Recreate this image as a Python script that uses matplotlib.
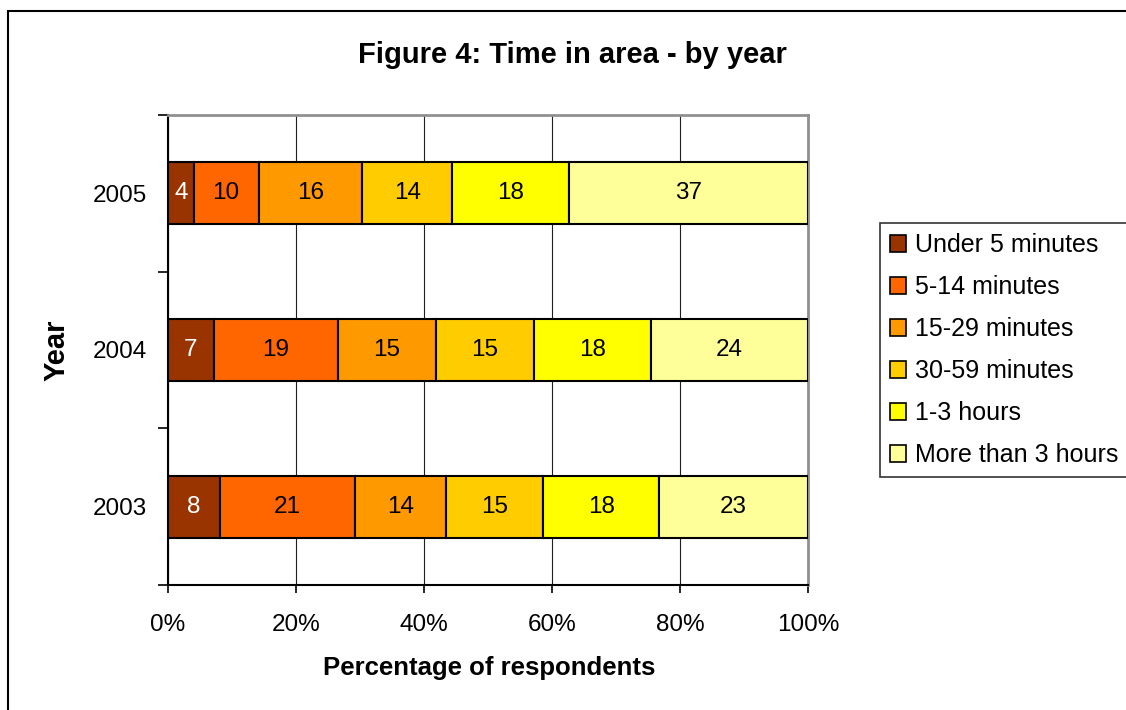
import matplotlib as mpl
mpl.use('Agg')
import matplotlib.pyplot as plt
from matplotlib.patches import Rectangle
import numpy as np

plt.rcParams['font.family'] = ['Liberation Sans', 'DejaVu Sans']

# survey data ------------------------------------------------------------------
years = ['2003', '2004', '2005']
categories = ['Under 5 minutes', '5-14 minutes', '15-29 minutes',
              '30-59 minutes', '1-3 hours', 'More than 3 hours']
under_5 = [8, 7, 4]
min_5_14 = [21, 19, 10]
min_15_29 = [14, 15, 16]
min_30_59 = [15, 15, 14]
hours_1_3 = [18, 18, 18]
over_3h = [23, 24, 37]
colors = ['#993300', '#FF6600', '#FF9900', '#FFCC00', '#FFFF00', '#FFFF99']
label_colors = ['white', 'black', 'black', 'black', 'black', 'black']

series = np.array([under_5, min_5_14, min_15_29, min_30_59, hours_1_3, over_3h], dtype=float)
# bars are scaled to 100% of each year's total
shares = series / series.sum(axis=0) * 100

fig = plt.figure(figsize=(11.26, 7.10), dpi=100)
ax = fig.add_axes([168/1126, 1 - 585/710, 640/1126, 470/710])

ypos = np.arange(len(years))
left = np.zeros(len(years))
for i, cat in enumerate(categories):
    bars = ax.barh(ypos, shares[i], left=left, height=0.395, color=colors[i],
                   edgecolor='black', linewidth=1.5, label=cat, zorder=3)
    for j, b in enumerate(bars):
        ax.text(left[j] + shares[i][j] / 2, ypos[j], '%d' % series[i][j],
                ha='center', va='center', fontsize=17.5, color=label_colors[i], zorder=4)
    left += shares[i]

ax.set_xlim(0, 100)
ax.set_ylim(-0.5, 2.5)
ax.set_xticks(np.arange(0, 101, 20))
ax.set_xticklabels(['%d%%' % v for v in range(0, 101, 20)], fontsize=17.5)
ax.set_yticks(ypos)
ax.set_yticklabels(years, fontsize=17.5)
ax.set_yticks([-0.5, 0.5, 1.5, 2.5], minor=True)
ax.tick_params(axis='y', which='major', length=0, pad=15)
ax.tick_params(axis='y', which='minor', length=7, width=1.2, direction='out')
ax.tick_params(axis='x', which='major', length=6, width=1.2, direction='out', pad=15)

ax.xaxis.grid(True, color='#202020', linewidth=0.8, zorder=0)
ax.set_axisbelow(True)
for side in ['top', 'right']:
    ax.spines[side].set_color('#909090')
    ax.spines[side].set_linewidth(2)
for side in ['left', 'bottom']:
    ax.spines[side].set_color('black')
    ax.spines[side].set_linewidth(1.5)

# titles and axis names
fig.text(572/1126, 1 - 55/710, 'Figure 4: Time in area - by year',
         ha='center', va='center', fontsize=21, fontweight='bold')
fig.text(489/1126, 1 - 668/710, 'Percentage of respondents',
         ha='center', va='center', fontsize=18.5, fontweight='bold')
fig.text(57/1126, 1 - 350/710, 'Year', ha='center', va='center',
         rotation=90, fontsize=21, fontweight='bold')

leg = fig.legend(loc='upper left', bbox_to_anchor=(880/1126, 1 - 223/710),
                 bbox_transform=fig.transFigure, fontsize=18, frameon=True,
                 fancybox=False, edgecolor='black', handlelength=0.65,
                 handleheight=0.65, handletextpad=0.35, labelspacing=0.72,
                 borderpad=0.4, borderaxespad=0)
leg.get_frame().set_linewidth(1.2)
for h in leg.legend_handles:
    h.set_linewidth(1.2)

# outer chart border
fig.add_artist(Rectangle((8/1126, -0.1), 1.2, 1.1 - 11/710, transform=fig.transFigure,
                         fill=False, edgecolor='black', linewidth=1.5))

fig.savefig('out.png', dpi=100)
